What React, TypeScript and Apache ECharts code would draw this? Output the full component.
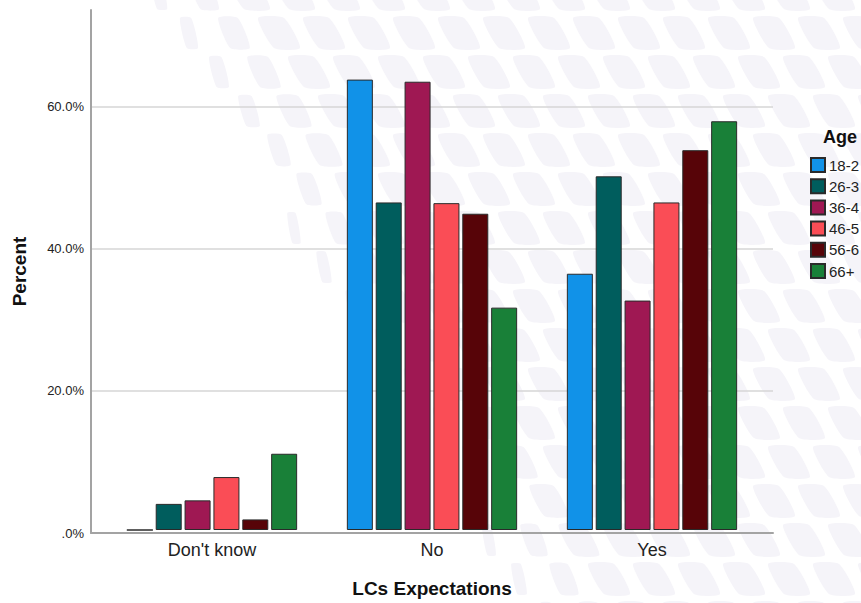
import React, { useEffect, useRef } from "react";
import * as echarts from "echarts";

const categories = ["Don't know", "No", "Yes"];
const ageGroups = ["18-2", "26-3", "36-4", "46-5", "56-6", "66+"];
const colors = ["#1192e8", "#005d5d", "#9f1853", "#fa4d56", "#570408", "#198038"];

const age18 = [0.0, 63.8, 36.3];
const age26 = [3.7, 46.4, 50.1];
const age36 = [4.2, 63.5, 32.5];
const age46 = [7.5, 46.3, 46.4];
const age56 = [1.5, 44.8, 53.8];
const age66 = [10.8, 31.5, 57.9];
const seriesValues = [age18, age26, age36, age46, age56, age66];

const yTicks = [0, 20, 40, 60];
const yTickLabels = [".0%", "20.0%", "40.0%", "60.0%"];
const yMax = 73.66;

const FONT = '"Liberation Sans", Arial, sans-serif';

function buildPattern() {
  const els: any[] = [];
  const w = 26, s = 16, h = 30, px = 45, py = 39;
  for (let r = 0; r < 17; r++) {
    const y = -21 + r * py;
    const shift = (((-15 * r) % px) + px) % px;
    for (let c = -2; c < 22; c++) {
      const x = c * px + shift + 3;
      const cy = y + h / 2;
      const xb = 150 + 0.62 * cy;
      const cx = x + (w + s) / 2;
      if (cx < xb) continue;
      const f = Math.min(1, (cx - xb) / 140 + 0.3);
      const ww = w * f;
      const ss = s * f;
      const ox = x + (w + s - ww - ss) / 2;
      els.push({
        type: "polygon",
        silent: true,
        z: -10,
        shape: {
          points: [
            [ox, y],
            [ox + ww, y],
            [ox + ww + ss, y + h],
            [ox + ss, y + h],
          ],
          smooth: 0.2,
        },
        style: { fill: "#f5f4f9" },
      });
    }
  }
  return els;
}

export default function App() {
  const ref = useRef<HTMLDivElement>(null);
  useEffect(() => {
    if (!ref.current) return;
    const chart = echarts.init(ref.current, null, { renderer: "svg" });
    const option: any = {
      animation: false,
      backgroundColor: "#ffffff",
      textStyle: { fontFamily: FONT },
      grid: [
        { left: 91, right: 88, top: 10, bottom: 70 },
        { left: 102, right: 99, top: 10, bottom: 70 },
      ],
      xAxis: [
        {
          gridIndex: 0,
          type: "value",
          min: 0,
          max: 1,
          axisLine: { show: true, lineStyle: { color: "#a3a3a3", width: 2 } },
          axisTick: { show: false },
          axisLabel: { show: false },
          splitLine: { show: false },
        },
        {
          gridIndex: 1,
          type: "category",
          data: categories,
          axisLine: { show: false },
          axisTick: { show: false },
          axisLabel: { color: "#222", fontSize: 18, margin: 11, fontFamily: FONT },
          name: "LCs Expectations",
          nameLocation: "middle",
          nameGap: 49,
          nameTextStyle: { color: "#111", fontSize: 19, fontWeight: "bold", fontFamily: FONT },
        },
      ],
      yAxis: [
        {
          gridIndex: 0,
          type: "value",
          min: 0,
          max: yMax,
          interval: 20,
          axisLine: { show: true, lineStyle: { color: "#a3a3a3", width: 2 } },
          axisTick: { show: false },
          axisLabel: {
            color: "#222",
            fontSize: 13,
            margin: 7,
            fontFamily: FONT,
            showMaxLabel: false,
            formatter: (v: number) => {
              const i = yTicks.indexOf(v);
              return i >= 0 ? yTickLabels[i] : "";
            },
          },
          splitLine: {
            show: true,
            showMaxLine: false,
            showMinLine: false,
            lineStyle: { color: "#d6d6d6", width: 1.5 },
          },
          name: "Percent",
          nameLocation: "middle",
          nameGap: 62,
          nameTextStyle: { color: "#111", fontSize: 19, fontWeight: "bold", fontFamily: FONT },
        },
        {
          gridIndex: 1,
          type: "value",
          min: 0,
          max: yMax,
          show: false,
        },
      ],
      legend: {
        orient: "vertical",
        left: 810,
        top: 157,
        padding: 0,
        itemWidth: 14,
        itemHeight: 14,
        itemGap: 5.2,
        icon: "rect",
        data: ageGroups,
        textStyle: { color: "#222", fontSize: 15, lineHeight: 15, fontFamily: FONT, padding: [0, 0, 0, -1] },
      },
      graphic: [
        ...buildPattern(),
        {
          type: "text",
          left: 823,
          top: 128,
          z: 10,
          style: { text: "Age", font: 'bold 18px "Liberation Sans", Arial, sans-serif', fill: "#111" },
        },
      ],
      series: ageGroups.map((name, i) => ({
        name,
        type: "bar",
        xAxisIndex: 1,
        yAxisIndex: 1,
        data: seriesValues[i],
        barWidth: 26,
        barGap: "11%",
        itemStyle: { color: colors[i], borderColor: "#2a2a2a", borderWidth: 1 },
        emphasis: { disabled: true },
      })),
    };
    chart.setOption(option);
    return () => chart.dispose();
  }, []);
  return (
    <div
      ref={ref}
      style={{ position: "absolute", left: 0, top: 0, width: 861, height: 603 }}
    />
  );
}
